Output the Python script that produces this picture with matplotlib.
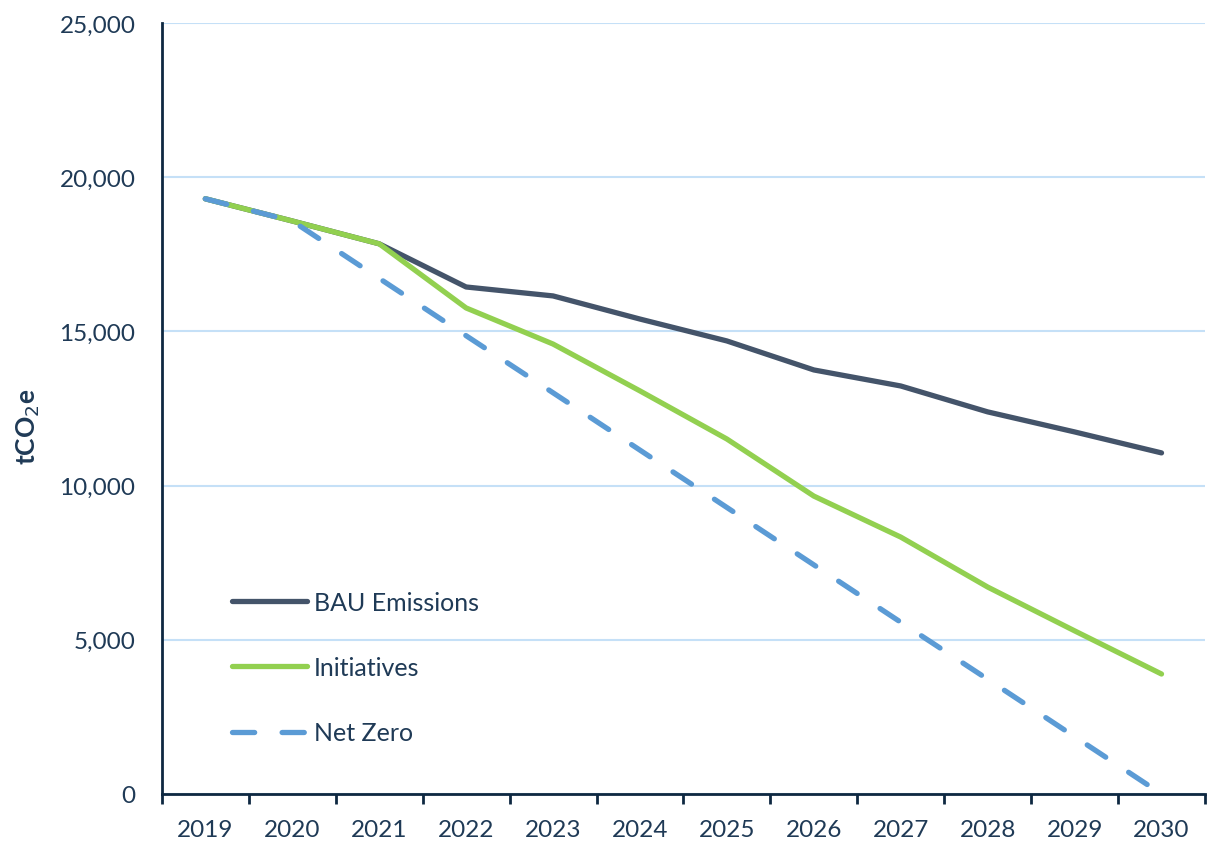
import matplotlib
matplotlib.use("Agg")
import matplotlib.pyplot as plt
import numpy as np

# Data
years = ["2019", "2020", "2021", "2022", "2023", "2024",
         "2025", "2026", "2027", "2028", "2029", "2030"]
bau = [19300, 18580, 17840, 16440, 16150, 15400,
       14690, 13750, 13230, 12390, 11740, 11060]
initiatives = [19300, 18580, 17840, 15760, 14590, 13070,
               11510, 9660, 8330, 6710, 5290, 3890]
net_zero = [19300, 18580, 16720, 14860, 13010, 11150,
            9290, 7430, 5570, 3720, 1860, 0]

plt.rcParams['font.family'] = ['Lato', 'DejaVu Sans']
text_col = '#1f3a56'
axis_col = '#0e2841'

fig = plt.figure(figsize=(12.08, 8.45), dpi=100)
ax = fig.add_axes([0.134, 0.0592, 0.8635, 0.9124])

x = np.arange(len(years))
lw = 3.8
ax.plot(x, bau, color='#44546a', lw=lw, solid_capstyle='round',
        solid_joinstyle='round', label='BAU Emissions', zorder=3)
ax.plot(x, initiatives, color='#92d050', lw=lw, solid_capstyle='round',
        solid_joinstyle='round', label='Initiatives', zorder=4)
ax.plot(x, net_zero, color='#5b9bd5', lw=lw, dashes=(4.2, 5.2),
        dash_capstyle='round', label='Net Zero', zorder=5)

ax.set_xlim(-0.5, len(years) - 0.5)
ax.set_ylim(0, 25000)
ax.set_yticks(np.arange(0, 25001, 5000))
ax.set_yticklabels([f"{v:,}" for v in range(0, 25001, 5000)])
ax.yaxis.grid(True, color='#c5e0f7', lw=1.5)
ax.set_axisbelow(True)

# category axis: ticks between the categories, labels centred
ax.set_xticks(np.arange(-0.5, len(years)), minor=False)
ax.set_xticklabels([])
ax.set_xticks(x, minor=True)
ax.set_xticklabels(years, minor=True)
ax.tick_params(axis='x', which='major', length=7, width=2, color=axis_col)
ax.tick_params(axis='x', which='minor', length=0, pad=18,
               labelsize=17.5, labelcolor=text_col)
ax.tick_params(axis='y', length=0, pad=19, labelsize=17.5, labelcolor=text_col)

for side in ['top', 'right']:
    ax.spines[side].set_visible(False)
for side in ['left', 'bottom']:
    ax.spines[side].set_color(axis_col)
    ax.spines[side].set_linewidth(2)

ax.set_ylabel('tCO$_2$e', fontsize=19, fontweight='bold', color=text_col)
ax.yaxis.set_label_coords(-0.115, 0.477)

leg = ax.legend(loc='center left', bbox_to_anchor=(0.067, 0.164), frameon=False,
                fontsize=18, handlelength=3.0, handletextpad=0.28,
                labelspacing=1.69, borderpad=0, borderaxespad=0)
for t in leg.get_texts():
    t.set_color(text_col)

fig.savefig('out.png', dpi=100)
